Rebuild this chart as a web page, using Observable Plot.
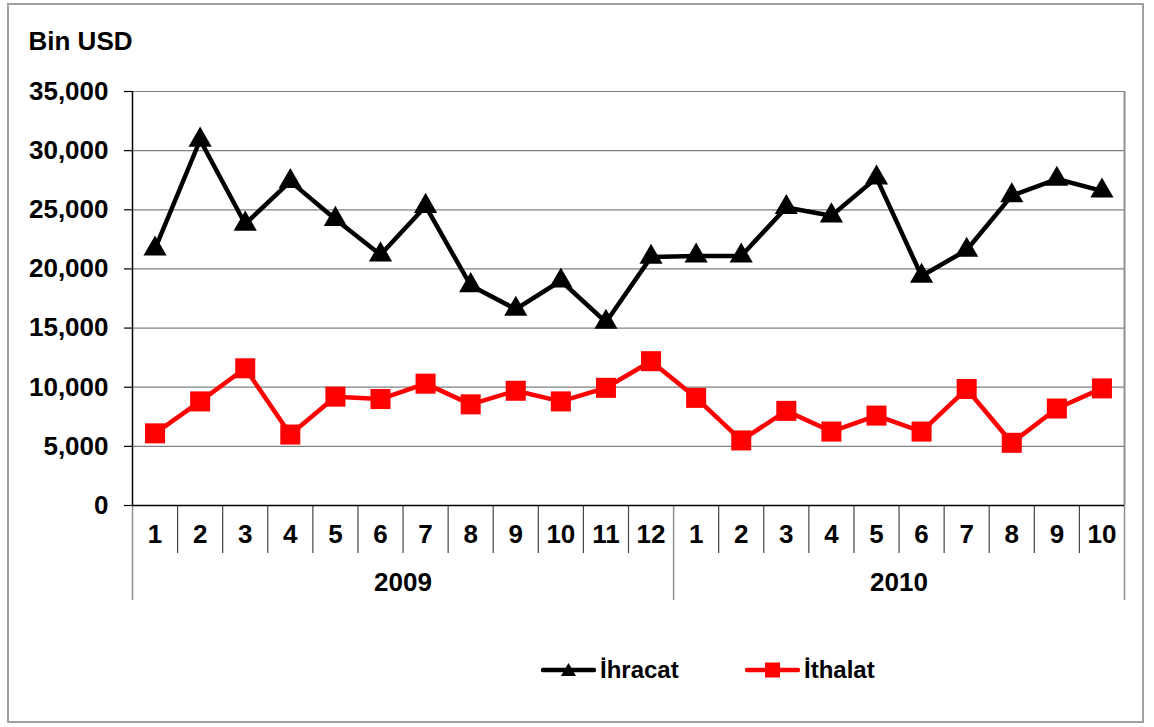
<!DOCTYPE html>
<html>
<head>
<meta charset="utf-8">
<script src="https://cdn.jsdelivr.net/npm/d3@7"></script>
<script src="https://cdn.jsdelivr.net/npm/@observablehq/plot@0.6"></script>
<style>
  html, body { margin: 0; padding: 0; background: #fff; }
  #wrap { position: relative; width: 1154px; height: 727px; overflow: hidden; font-family: "Liberation Sans", Arial, sans-serif; }
  #frame { position: absolute; left: 7px; top: 3px; width: 1137px; height: 720px; border: 2px solid #a0a0a0; box-sizing: border-box; pointer-events: none; }
  #chart { position: absolute; left: 0; top: 0; }
  #legend { position: absolute; top: 655px; left: 0; width: 1154px; height: 30px; }
  .item { position: absolute; top: 0; display: flex; align-items: center; height: 30px; font-weight: bold; font-size: 24px; color: #000; }
  .item svg { margin-right: 4px; }
</style>
</head>
<body>
<div id="wrap">
  <div id="chart"></div>
  <div id="frame"></div>
  <div id="legend"></div>
</div>
<script>
// ---- data ----
const months = ["1","2","3","4","5","6","7","8","9","10","11","12","1","2","3","4","5","6","7","8","9","10"];
const years = ["2009", "2010"];
const yearCounts = [12, 10];
const ihracat = [21700, 30900, 23800, 27400, 24200, 21200, 25300, 18600, 16600, 19000, 15500, 21000,
                 21100, 21100, 25200, 24500, 27700, 19400, 21600, 26200, 27600, 26600];
const ithalat = [6100, 8800, 11600, 6000, 9200, 9000, 10300, 8550, 9700, 8800, 9950, 12200,
                 9100, 5500, 8000, 6250, 7600, 6250, 9850, 5300, 8200, 9900];
const yTicks = [0, 5000, 10000, 15000, 20000, 25000, 30000, 35000];
const seriesNames = ["İhracat", "İthalat"];
const seriesColors = ["#000000", "#ff0000"];

// ---- derived tables ----
const idx = months.map((_, i) => i);
const expData = idx.map(i => ({i, v: ihracat[i]}));
const impData = idx.map(i => ({i, v: ithalat[i]}));
const bounds = d3.range(-0.5, months.length, 1);
let acc = 0;
const yearStarts = [-0.5];
const yearCenters = [];
yearCounts.forEach(c => { yearCenters.push(acc + (c - 1) / 2); acc += c; yearStarts.push(acc - 0.5); });
const monthSeps = bounds.filter(b => !yearStarts.includes(b));

const W = 1154, H = 727;
const mL = 132, mR = 30, mT = 91, mB = 222;
const innerH = H - mT - mB;
const fontBold = {fontWeight: "bold", fontSize: 26, fill: "#000"};

const chart = Plot.plot({
  width: W, height: H,
  marginLeft: mL, marginRight: mR, marginTop: mT, marginBottom: mB,
  style: {fontFamily: "'Liberation Sans', Arial, sans-serif", background: "transparent", overflow: "visible"},
  x: {type: "linear", domain: [-0.5, months.length - 0.5], axis: null},
  y: {type: "linear", domain: [0, 35000], axis: null},
  marks: [
    // gridlines
    Plot.ruleY(yTicks.filter(t => t > 0), {stroke: "#808080", strokeWidth: 1.2}),
    // right border
    Plot.ruleX([months.length - 0.5], {stroke: "#909090", strokeWidth: 2}),
    // y axis
    Plot.axisY({ticks: yTicks, tickFormat: d3.format(","), tickSize: 8, tickPadding: 16, label: null,
                fontSize: 26, fontWeight: "bold", stroke: "#000", strokeWidth: 1.2, color: "#000"}),
    // month separators below axis
    Plot.ruleX(monthSeps, {stroke: "#444", strokeWidth: 1.2, insetTop: innerH, insetBottom: -48}),
    // year separators
    Plot.ruleX(yearStarts, {stroke: "#909090", strokeWidth: 1.5, insetTop: innerH, insetBottom: -95}),
    // month labels
    Plot.text(idx, {x: i => i, text: i => months[i], frameAnchor: "bottom", dy: 37, ...fontBold}),
    // year labels
    Plot.text(years, {x: (d, j) => yearCenters[j], text: d => d, frameAnchor: "bottom", dy: 85, ...fontBold}),
    // axis lines
    Plot.ruleX([-0.5], {stroke: "#000", strokeWidth: 1.5}),
    Plot.ruleY([0], {stroke: "#000", strokeWidth: 1.5}),
    // series
    Plot.line(expData, {x: "i", y: "v", stroke: seriesColors[0], strokeWidth: 4.5}),
    Plot.dot(expData, {x: "i", y: "v", symbol: "triangle", r: 8.6, fill: seriesColors[0], stroke: "none"}),
    Plot.line(impData, {x: "i", y: "v", stroke: seriesColors[1], strokeWidth: 4.5}),
    Plot.dot(impData, {x: "i", y: "v", symbol: "square", r: 11.3, fill: seriesColors[1], stroke: "none"}),
    // unit title
    Plot.text(["Bin USD"], {frameAnchor: "top-left", dx: 28 - mL, dy: 41 - mT, textAnchor: "start", lineAnchor: "middle", ...fontBold})
  ]
});
document.getElementById("chart").appendChild(chart);

// ---- legend ----
const legend = document.getElementById("legend");
const legendX = [541, 745];
seriesNames.forEach((name, k) => {
  const div = document.createElement("div");
  div.className = "item";
  div.style.left = legendX[k] + "px";
  const sym = k === 0
    ? `<polygon points="27.5,8 35,21 20,21" fill="${seriesColors[k]}"/>`
    : `<rect x="20" y="7.5" width="15" height="15" fill="${seriesColors[k]}"/>`;
  div.innerHTML = `<svg width="55" height="30"><line x1="2" y1="15" x2="53" y2="15" stroke="${seriesColors[k]}" stroke-width="4.5" stroke-linecap="round"/>${sym}</svg><span>${name}</span>`;
  legend.appendChild(div);
});
</script>
</body>
</html>
